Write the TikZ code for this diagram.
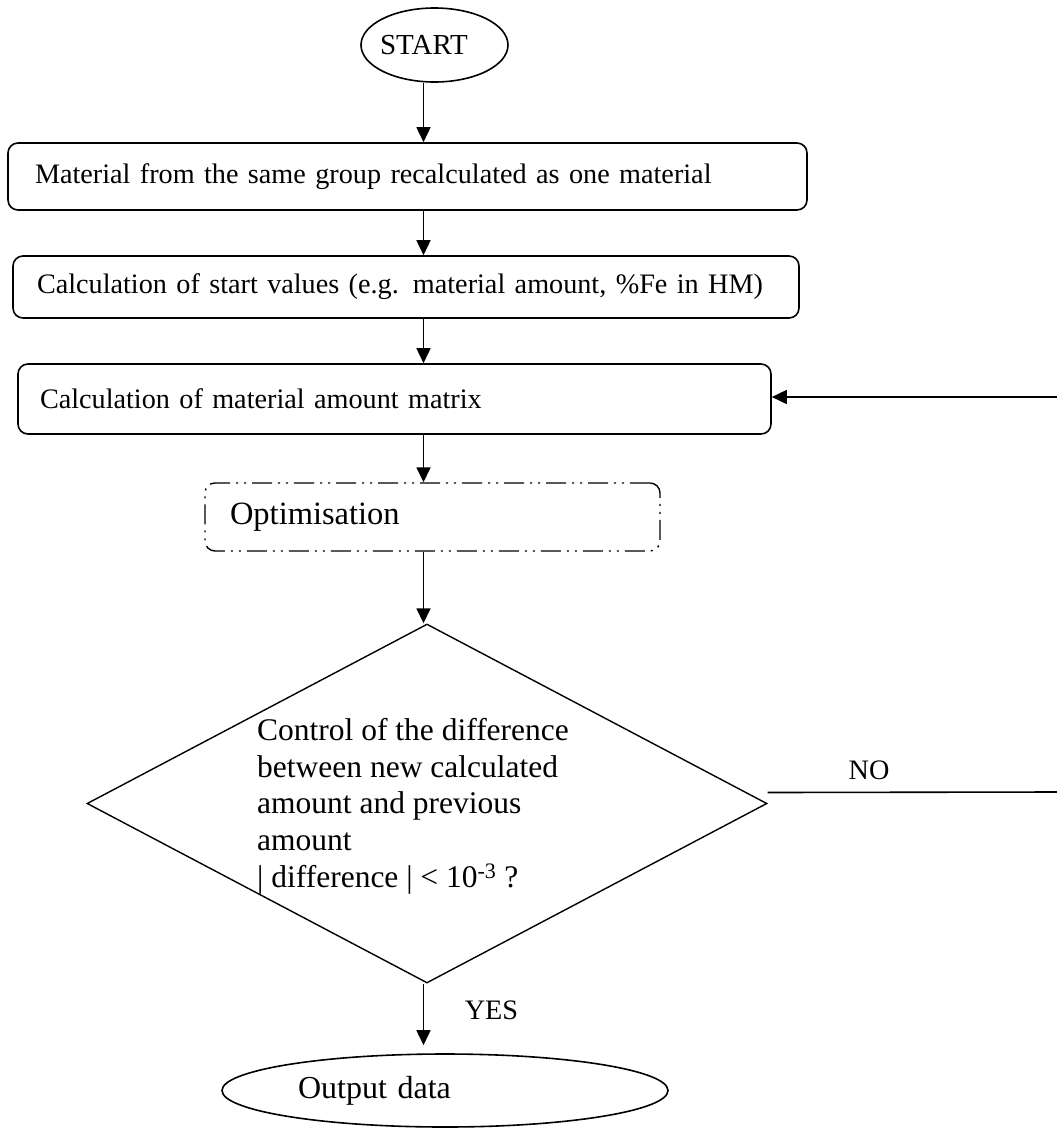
\documentclass[tikz,border=0pt]{standalone}
\usepackage{fontspec}
\setmainfont{Liberation Serif}
\usetikzlibrary{arrows.meta,shapes.geometric}
\begin{document}
\begin{tikzpicture}[x=1pt,y=-1pt,
  font=\fontsize{28.2}{33}\selectfont,
  stepbox/.style={draw, line width=1.6pt, rounded corners=10pt, align=left, inner ysep=0pt},
  optbox/.style={stepbox, line width=1.4pt,
    dash pattern=on 20pt off 6pt on 2pt off 6pt on 2pt off 6pt},
  terminal/.style={draw, ellipse, line width=1.6pt, inner sep=0pt},
  decision/.style={draw, diamond, line width=1.4pt, inner sep=0pt,
    minimum width=680pt, minimum height=359pt},
  flow/.style={line width=1.6pt, -{Triangle[length=15pt,width=14pt]}},
  plainline/.style={line width=1.6pt},
  lbl/.style={inner sep=0pt}]

\useasboundingbox (0,0) rectangle (1057,1128);

% main column of the vertical flow
\coordinate (col) at (423.5,0);

% terminals
\node[terminal, minimum width=147pt, minimum height=74pt, font=\fontsize{29}{34}\selectfont]
  (start) at (434.5,45) {\hspace*{-21pt}START};
\node[terminal, minimum width=446pt, minimum height=73pt, text width=294pt, align=left,
  font=\fontsize{32}{36}\selectfont] (out) at (445,1090.5) {Output data};

% process steps
\node[stepbox, minimum width=799pt, minimum height=67pt, inner xsep=27pt, text width=745pt]
  (recalc) at (407.5,176.5) {Material from the same group recalculated as one material};
\node[stepbox, minimum width=786pt, minimum height=62pt, inner xsep=24pt, text width=738pt]
  (startval) at (406,287) {Calculation of start values (e.g. material amount, \%Fe in HM)};
\node[stepbox, minimum width=753pt, minimum height=70pt, inner xsep=22pt, text width=709pt]
  (matrix) at (394.5,399) {Calculation of material amount matrix};
\node[optbox, minimum width=455pt, minimum height=68pt, inner xsep=25pt, text width=405pt,
  font=\fontsize{32.5}{38}\selectfont]
  (opt) at (432.5,517) {Optimisation};

% convergence test
\node[decision] (check) at (427,803.5) {};
\node[lbl, anchor=west, align=left, font=\fontsize{31.5}{36.7}\selectfont]
  (checktext) at (257,806)
  {Control of the difference\\ between new calculated\\ amount and previous\\ amount\\
   | difference | < 10\textsuperscript{-3} ?};

% branch labels
\node[lbl] (nolbl) at (869,770) {NO};
\node[lbl] (yeslbl) at (491.5,1010) {YES};

% loop ends at the right margin
\coordinate (noend) at (1057,792);
\coordinate (backstart) at (1057,397);

% connectors
\draw[flow] (start.south -| col) -- (recalc.north -| col);
\draw[flow] (recalc.south -| col) -- (startval.north -| col);
\draw[flow] (startval.south -| col) -- (matrix.north -| col);
\draw[flow] (matrix.south -| col) -- (opt.north -| col);
\draw[flow] (opt.south -| col) -- (col |- check.north);
\draw[flow, shorten >=8pt] (col |- check.south) -- (out.north -| col);
\draw[plainline] ([yshift=11pt]check.east) -- (noend);
\draw[flow] (backstart) -- (backstart -| matrix.east);
\end{tikzpicture}
\end{document}
